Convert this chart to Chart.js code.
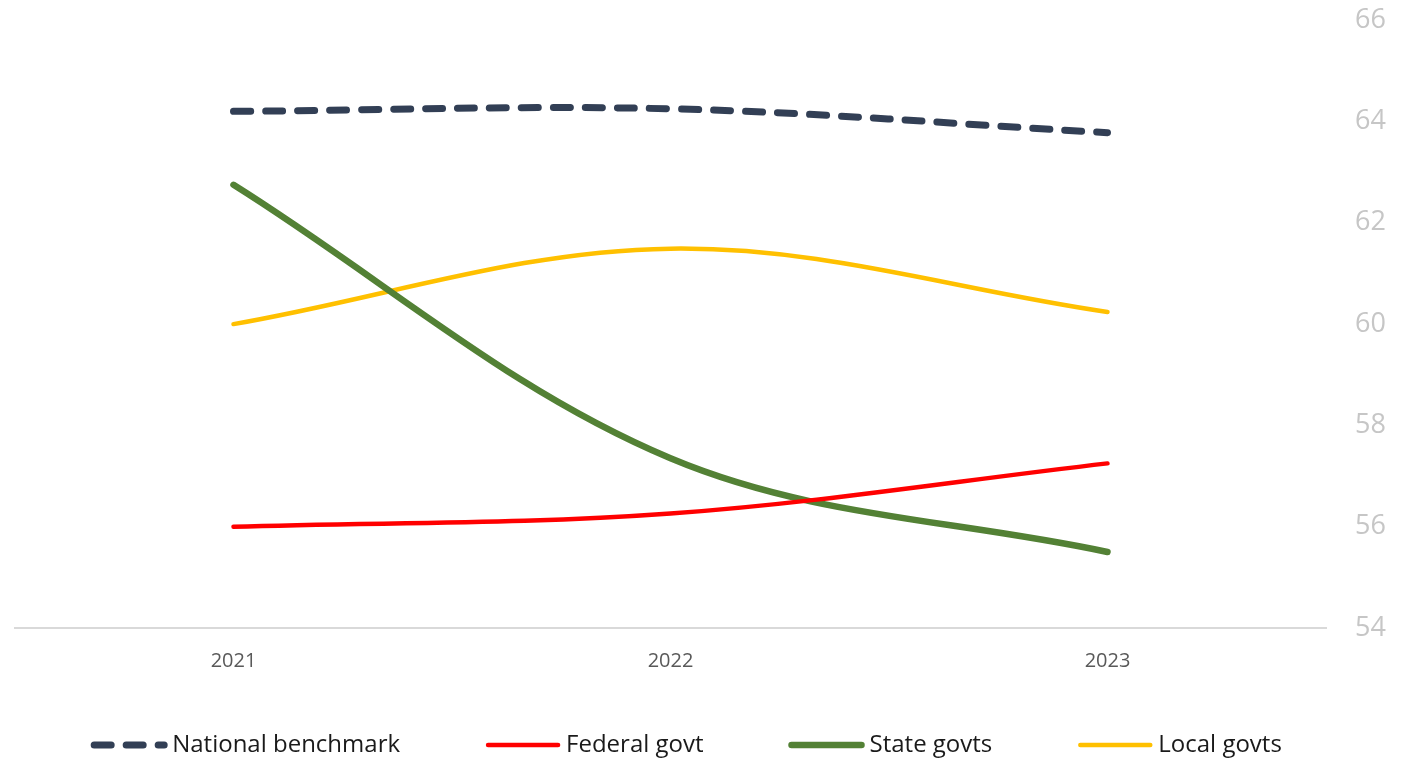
<!DOCTYPE html>
<html>
<head>
<meta charset="utf-8">
<script src="https://cdn.jsdelivr.net/npm/chart.js@4/dist/chart.umd.min.js"></script>
<style>
  html, body { margin: 0; padding: 0; background: #fff; }
  #wrap { position: relative; width: 1415px; height: 758px; }
</style>
</head>
<body>
<div id="wrap"><canvas id="lineChart"></canvas></div>
<script>
/* scores by level of government, 2021-2023 */

const years = ['2021', '2022', '2023'];
const nationalBenchmark = [64.2, 64.25, 63.78];
const federalGovt = [56.0, 56.26, 57.25];
const stateGovts = [62.75, 57.35, 55.5];
const localGovts = [60.0, 61.49, 60.24];
const yTicks = [54, 56, 58, 60, 62, 64, 66];

const FONT = "'Open Sans', 'Noto Sans', sans-serif";

function series(label, data, color, width, dash) {
  return {
    label: label,
    data: data,
    borderColor: color,
    backgroundColor: color,
    borderWidth: width,
    borderDash: dash || [],
    borderCapStyle: 'round',
    borderJoinStyle: 'round',
    pointRadius: 0,
    pointHoverRadius: 0,
    tension: 0.35,
    fill: false
  };
}

// one-row legend under the axis: line swatch (same dash/width) + label
const lineLegend = {
  id: 'lineLegend',
  afterDraw(chart, args, opts) {
    const c = chart.ctx;
    const sets = chart.data.datasets;
    c.save();
    c.font = opts.font;
    const widths = sets.map(ds => opts.swatch + opts.gap + c.measureText(ds.label).width);
    const total = widths.reduce((a, b) => a + b, 0) + opts.spacing * (sets.length - 1);
    let x = opts.centerX - total / 2;
    sets.forEach((ds, i) => {
      c.beginPath();
      c.lineWidth = ds.borderWidth;
      c.strokeStyle = ds.borderColor;
      c.lineCap = 'round';
      c.setLineDash(ds.borderDash || []);
      c.moveTo(x, opts.lineY);
      c.lineTo(x + opts.swatch, opts.lineY);
      c.stroke();
      c.setLineDash([]);
      c.fillStyle = opts.color;
      c.textBaseline = 'alphabetic';
      c.textAlign = 'left';
      c.fillText(ds.label, x + opts.swatch + opts.gap, opts.textY);
      x += widths[i] + opts.spacing;
    });
    c.restore();
  }
};

const ctx = document.getElementById('lineChart').getContext('2d');
new Chart(ctx, {
  type: 'line',
  data: {
    labels: years,
    datasets: [
      series('National benchmark', nationalBenchmark, '#323f55', 7, [17, 15]),
      series('Federal govt', federalGovt, '#ff0000', 4.5),
      series('State govts', stateGovts, '#538135', 6.5),
      series('Local govts', localGovts, '#ffc000', 4.5)
    ]
  },
  plugins: [lineLegend],
  options: {
    responsive: true,
    maintainAspectRatio: false,
    animation: false,
    layout: { padding: { top: 0, right: 29, bottom: 64, left: 15 } },
    plugins: {
      tooltip: { enabled: false },
      legend: { display: false },
      lineLegend: {
        font: '24px ' + FONT,
        color: '#1a1a1a',
        swatch: 70,
        gap: 8,
        spacing: 88,
        centerX: 688,
        lineY: 745,
        textY: 752
      }
    },
    scales: {
      x: {
        offset: true,
        grid: { display: false, drawTicks: false },
        border: { display: true, color: '#d9d9d9', width: 2 },
        ticks: { color: '#595959', padding: 21, font: { family: FONT, size: 20 } }
      },
      y: {
        position: 'right',
        min: yTicks[0],
        max: yTicks[yTicks.length - 1],
        grid: { display: false, drawTicks: true, tickLength: 25 },
        border: { display: false },
        afterBuildTicks: (scale) => { scale.ticks = yTicks.map(v => ({ value: v })); },
        ticks: { color: '#c6c6c6', padding: 4, font: { family: FONT, size: 27 } },
        afterFit: (scale) => { scale.width = 60; }
      }
    }
  }
});
</script>
</body>
</html>
